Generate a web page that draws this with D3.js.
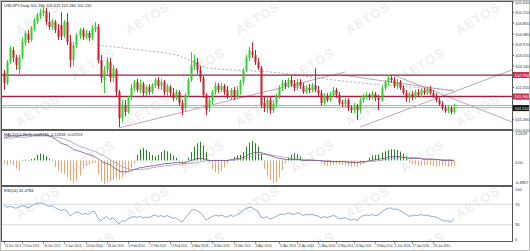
<!DOCTYPE html>
<html>
<head>
<meta charset="utf-8">
<script src="https://cdn.jsdelivr.net/npm/d3@7"></script>
<style>
  html, body { margin: 0; padding: 0; background: #fff; }
  svg { display: block; font-family: "Liberation Sans", Arial, sans-serif; }
</style>
</head>
<body>
<svg id="chart"></svg>
<script>
// USDJPY daily bars
const opens = [102.87,102.48,103.29,103.76,103.45,102.99,103.49,104.03,104.38,104.15,104.57,104.88,105.08,105.19,105.27,104.85,104.65,104.85,104.54,104.73,
  104.30,104.85,104.07,103.37,103.95,104.30,104.54,104.26,104.42,104.23,104.57,104.65,103.37,102.60,102.99,103.29,102.68,102.99,102.13,101.12,
  101.63,101.36,101.90,102.29,102.52,102.21,102.44,102.09,102.33,102.13,102.37,102.60,102.37,102.52,102.13,102.33,102.09,101.90,102.13,101.71,
  101.51,102.02,102.60,103.14,103.29,102.99,102.68,102.02,101.51,101.82,102.13,102.37,102.21,102.37,102.21,101.98,102.21,101.94,102.21,102.52,
  102.99,103.45,103.68,103.57,103.29,103.06,101.71,101.51,101.82,101.43,101.67,101.98,102.29,102.48,102.37,102.60,102.44,102.29,102.52,102.37,
  102.13,102.29,102.21,102.40,102.21,102.09,101.71,101.98,101.82,102.02,102.21,102.02,101.71,101.67,101.82,101.51,101.43,101.59,101.43,101.82,
  101.98,102.02,101.94,102.06,101.90,101.82,102.29,102.52,102.68,102.60,102.37,102.52,102.29,102.09,101.90,102.06,101.94,102.13,102.02,102.21,
  102.09,102.25,102.09,101.98,101.82,101.67,101.51,101.40,101.51,101.36];
const highs = [102.99,103.37,103.92,103.88,103.57,103.57,104.23,104.50,104.54,104.69,105.00,105.19,105.35,105.43,105.39,105.23,104.96,104.92,104.77,105.23,
  104.92,105.19,104.34,104.07,104.42,104.61,104.61,104.54,104.50,104.73,104.85,104.77,103.57,103.14,103.49,103.45,103.18,103.06,102.21,101.82,
  101.82,101.98,102.44,102.60,102.64,102.60,102.52,102.40,102.44,102.48,102.68,102.71,102.64,102.60,102.44,102.40,102.29,102.21,102.21,101.82,
  102.09,102.68,103.68,103.57,103.45,103.14,102.75,102.09,101.94,102.21,102.52,102.48,102.48,102.44,102.37,102.29,102.33,102.37,102.60,103.06,
  103.57,103.88,104.07,103.76,103.45,103.14,101.94,101.94,101.98,101.82,102.06,102.40,102.60,102.60,102.68,102.75,102.60,102.64,102.64,102.48,
  102.40,102.44,102.48,103.06,102.37,102.21,102.09,102.09,102.13,102.33,102.29,102.13,101.82,101.90,101.90,101.63,101.71,101.67,101.90,102.06,
  102.13,102.09,102.17,102.13,102.02,102.37,102.60,102.75,102.79,102.71,102.64,102.60,102.40,102.21,102.13,102.17,102.21,102.25,102.29,102.29,
  102.33,102.37,102.21,102.09,101.90,101.78,101.63,101.59,101.59,101.67];
const lows = [102.21,102.40,103.22,103.29,102.99,102.83,103.41,103.92,104.03,104.07,104.50,104.77,104.96,105.08,104.73,104.54,104.54,104.42,104.15,104.15,
  104.23,103.95,103.10,103.14,103.84,104.19,104.15,104.19,104.11,104.15,104.46,103.26,102.48,102.09,102.79,102.52,102.52,101.98,100.78,100.97,
  101.20,101.28,101.82,102.17,102.13,102.09,101.98,101.98,102.02,102.06,102.29,102.25,102.21,102.02,101.98,101.94,101.78,101.82,101.59,101.24,
  101.40,101.94,102.52,102.99,102.83,102.52,101.90,101.24,101.36,101.67,102.02,102.09,102.13,102.02,101.86,101.82,101.82,101.86,102.02,102.40,
  102.91,103.33,103.45,103.18,102.99,101.51,101.36,101.32,101.28,101.32,101.55,101.86,102.17,102.25,102.29,102.33,102.17,102.21,102.25,102.06,
  102.06,102.09,102.13,102.13,101.98,101.59,101.63,101.75,101.75,101.94,101.90,101.63,101.55,101.55,101.40,101.32,101.32,101.05,101.32,101.71,
  101.86,101.82,101.86,101.78,101.43,101.75,102.17,102.40,102.48,102.29,102.25,102.21,102.02,101.75,101.71,101.82,101.86,101.94,101.94,102.02,
  102.02,102.02,101.90,101.75,101.59,101.43,101.32,101.32,101.28,101.28];
const closes = [102.48,103.29,103.84,103.45,103.18,103.49,104.07,104.42,104.15,104.61,104.92,105.12,105.23,105.31,104.85,104.65,104.88,104.54,104.26,104.30,
  104.85,104.07,103.37,103.95,104.34,104.54,104.26,104.42,104.23,104.61,104.69,103.37,102.68,102.99,103.37,102.68,103.06,102.13,101.12,101.63,
  101.36,101.90,102.29,102.52,102.21,102.44,102.09,102.33,102.13,102.40,102.60,102.37,102.52,102.13,102.37,102.09,101.90,102.13,101.71,101.43,
  102.02,102.60,103.18,103.37,102.99,102.68,102.02,101.43,101.82,102.13,102.40,102.21,102.37,102.13,101.98,102.21,101.94,102.21,102.52,102.99,
  103.45,103.76,103.57,103.29,103.06,101.63,101.51,101.82,101.43,101.67,101.98,102.29,102.48,102.37,102.60,102.44,102.29,102.52,102.37,102.13,
  102.29,102.21,102.40,102.21,102.09,101.71,101.98,101.82,102.02,102.21,102.02,101.71,101.67,101.82,101.51,101.43,101.59,101.43,101.82,101.98,
  102.02,101.94,102.06,101.90,101.82,102.29,102.52,102.68,102.60,102.37,102.52,102.29,102.09,101.90,102.06,101.94,102.13,102.02,102.21,102.09,
  102.25,102.09,101.98,101.82,101.67,101.51,101.40,101.51,101.36,101.51];

// MACD(12,26,9): histogram and the two lines
const macdHist = [-0.12,-0.18,-0.12,-0.18,-0.30,-0.37,0.02,0.03,0.02,0.05,0.08,0.20,0.25,0.22,0.15,0.06,0.02,-0.25,-0.37,-0.43,
  -0.49,-0.61,-0.74,-0.83,-0.74,-0.55,-0.30,-0.20,-0.15,-0.10,-0.08,-0.50,-0.75,-0.85,-0.80,-0.75,-0.70,-0.68,-0.70,-0.60,
  -0.50,-0.40,-0.25,-0.12,0.20,0.40,0.45,0.38,0.30,0.20,0.15,0.20,0.30,0.37,0.33,0.25,0.18,0.10,-0.10,-0.18,
  -0.15,0.10,0.30,0.50,0.62,0.68,0.55,0.30,-0.10,-0.30,-0.42,-0.49,-0.40,-0.25,-0.12,0.02,0.12,0.18,0.20,0.30,
  0.50,0.65,0.70,0.62,0.50,0.25,-0.30,-0.55,-0.70,-0.80,-0.78,-0.60,-0.35,-0.10,0.10,0.20,0.25,0.22,0.15,0.03,
  0.02,0.03,0.02,0.01,-0.02,-0.12,-0.18,-0.20,-0.18,-0.15,-0.12,-0.15,-0.15,-0.18,-0.20,-0.22,-0.20,-0.22,-0.18,-0.12,
  -0.05,0.10,0.18,0.20,0.22,0.28,0.33,0.37,0.40,0.40,0.38,0.32,0.25,0.15,-0.08,-0.12,-0.15,-0.18,-0.20,-0.18,
  -0.15,-0.18,-0.20,-0.22,-0.20,-0.18,-0.20,-0.22,-0.20,-0.18];
const macdMain = [0.84,0.84,0.88,0.88,0.88,0.88,0.92,0.92,0.92,0.92,0.92,0.92,0.92,0.92,0.92,0.88,0.84,0.77,0.69,0.62,
  0.58,0.55,0.47,0.40,0.36,0.33,0.29,0.25,0.22,0.18,0.14,0.07,0.00,-0.08,-0.11,-0.15,-0.22,-0.30,-0.37,-0.41,
  -0.41,-0.41,-0.37,-0.33,-0.30,-0.26,-0.26,-0.22,-0.22,-0.19,-0.19,-0.15,-0.15,-0.11,-0.11,-0.11,-0.08,-0.08,-0.08,-0.08,
  -0.08,-0.04,0.00,0.03,0.07,0.07,0.07,0.03,0.00,0.00,0.00,0.00,0.00,0.00,0.00,0.03,0.03,0.07,0.07,0.11,
  0.14,0.22,0.25,0.29,0.29,0.29,0.25,0.22,0.18,0.14,0.11,0.07,0.07,0.03,0.03,0.03,0.03,0.03,0.03,0.00,
  0.00,0.00,0.00,0.00,0.00,0.00,-0.04,-0.04,-0.04,-0.04,-0.04,-0.04,-0.04,-0.04,-0.08,-0.08,-0.08,-0.08,-0.04,-0.04,
  -0.04,0.00,0.00,0.03,0.03,0.07,0.07,0.11,0.14,0.14,0.14,0.14,0.11,0.11,0.07,0.07,0.07,0.07,0.07,0.03,
  0.03,0.03,0.03,0.03,0.03,0.00,0.00,0.00,0.00,0.00];
const macdSignal = [0.81,0.81,0.81,0.81,0.84,0.84,0.84,0.84,0.84,0.88,0.88,0.88,0.88,0.88,0.88,0.88,0.88,0.84,0.84,0.81,
  0.77,0.73,0.69,0.62,0.58,0.51,0.47,0.44,0.40,0.36,0.33,0.29,0.22,0.18,0.11,0.03,-0.04,-0.08,-0.15,-0.22,
  -0.26,-0.30,-0.33,-0.33,-0.33,-0.33,-0.33,-0.30,-0.30,-0.26,-0.26,-0.22,-0.22,-0.19,-0.19,-0.19,-0.15,-0.15,-0.15,-0.11,
  -0.11,-0.11,-0.11,-0.08,-0.08,-0.04,-0.04,0.00,0.00,0.00,0.00,0.00,0.00,0.00,0.00,0.00,0.00,0.03,0.03,0.03,
  0.07,0.11,0.14,0.18,0.22,0.22,0.22,0.22,0.22,0.18,0.18,0.14,0.14,0.11,0.11,0.07,0.07,0.07,0.03,0.03,
  0.03,0.03,0.03,0.00,0.00,0.00,0.00,0.00,0.00,-0.04,-0.04,-0.04,-0.04,-0.04,-0.04,-0.04,-0.04,-0.08,-0.08,-0.08,
  -0.04,-0.04,-0.04,-0.04,0.00,0.00,0.03,0.03,0.07,0.07,0.07,0.11,0.11,0.11,0.11,0.11,0.11,0.11,0.07,0.07,
  0.07,0.07,0.07,0.03,0.03,0.03,0.03,0.03,0.03,0.00];

// RSI(14)
const rsi = [68,64,66,64,62,65,67,66,63,67,70,72,73,72,68,66,67,63,60,58,
  60,56,47,52,55,54,50,52,50,55,56,44,37,42,46,40,44,38,31,38,
  36,41,44,46,44,47,43,45,44,47,49,46,48,45,48,45,42,44,38,35,
  43,50,58,60,57,54,47,39,43,46,49,47,49,46,45,49,46,49,53,57,
  61,64,64,60,57,45,43,46,41,43,46,49,51,50,53,52,50,53,52,48,
  50,49,51,48,47,43,46,44,46,48,46,42,42,44,40,39,41,38,45,48,
  49,48,50,48,49,55,59,62,63,60,61,58,55,51,47,47,49,48,50,48,
  49,47,46,45,42,39,37,38,35,42.48];

const dateLabels = ["10 Dec 2013","19 Dec 2013","30 Dec 2013","9 Jan 2014","20 Jan 2014","28 Jan 2014","6 Feb 2014",
  "17 Feb 2014","25 Feb 2014","6 Mar 2014","14 Mar 2014","25 Mar 2014","3 Apr 2014","11 Apr 2014","22 Apr 2014",
  "1 May 2014","12 May 2014","20 May 2014","29 May 2014","9 Jun 2014","17 Jun 2014","26 Jun 2014"];
const dateIdx = [0,6,13,20,27,34,41,48,55,62,69,76,83,91,97,104,110,116,123,129,135,142];

const priceTicks = [105.620,105.210,104.800,104.380,103.970,103.550,103.140,102.720,102.310,101.890,101.480,101.060,100.650];
const redLevels = [102.79, 101.96];
const cyanLevels = [101.61, 101.53];
const lastPrice = 101.51;
// drawn trendlines: [index1, price1, index2, price2]
const trendLines = [[38,100.74,113,102.91],[112,102.79,149,102.17],[118,100.78,168.2,102.99],[129,102.79,168.2,100.97]];
const maIdx = [31,45,58,68,88,115,149];
const maVal = [103.95,103.76,103.53,103.06,102.91,102.52,102.21];

const W = 530, H = 251;
const plotL = 2, plotR = 512;
const main = {top: 2, bottom: 129}, mp = {top: 131, bottom: 185}, rp = {top: 187, bottom: 241};

const svg = d3.select("#chart").attr("width", W).attr("height", H);

const x = d3.scaleLinear().domain([0, closes.length - 1]).range([4, 454]);
const y = d3.scaleLinear().domain([100.65, 105.62]).range([130.3, 2]);
const ym = d3.scaleLinear().domain([-0.8857, 1.0629]).range([185, 131]);
const yr = d3.scaleLinear().domain([0, 100]).range([240, 189]);
const px = i => Math.round(x(i)) + 0.5;

const defs = svg.append("defs");
[["clipMain", main], ["clipMacd", mp], ["clipRsi", rp], ["clipAll", {top: 1, bottom: 250}]].forEach(([id, p]) => {
  defs.append("clipPath").attr("id", id).append("rect")
    .attr("x", id === "clipAll" ? 1 : plotL).attr("y", p.top)
    .attr("width", id === "clipAll" ? W - 2 : plotR - plotL).attr("height", p.bottom - p.top);
});

// watermark
const wm = svg.append("g").attr("clip-path", "url(#clipAll)");
for (let r = 0; r < 6; r++) {
  for (let c = 0; c < 6; c++) {
    const cx = 40 + c * 110 + (r % 2) * 55, cy = 22 + r * 46;
    if (cx > 500) continue;
    wm.append("text").attr("transform", `translate(${cx},${cy}) rotate(-32)`)
      .attr("text-anchor", "middle").attr("font-size", 13).attr("font-weight", "bold")
      .attr("fill", "#efefef").attr("letter-spacing", 1).text("AETOS");
  }
}

// ---- main panel
const gm = svg.append("g").attr("clip-path", "url(#clipMain)");

gm.append("path")
  .datum(maIdx.map((d, i) => [d, maVal[i]]))
  .attr("fill", "none").attr("stroke", "#8a8a8a").attr("stroke-width", 0.7).attr("stroke-dasharray", "2,2")
  .attr("d", d3.line().x(d => x(d[0])).y(d => y(d[1])).curve(d3.curveMonotoneX));

gm.selectAll(".tl").data(trendLines).enter().append("line")
  .attr("x1", d => x(d[0])).attr("y1", d => y(d[1])).attr("x2", d => x(d[2])).attr("y2", d => y(d[3]))
  .attr("stroke", "#b08fa0").attr("stroke-width", 0.8);

gm.selectAll(".rl").data(redLevels).enter().append("line")
  .attr("x1", plotL).attr("x2", plotR).attr("y1", d => y(d)).attr("y2", d => y(d))
  .attr("stroke", "#962443").attr("stroke-width", 1.3);

gm.selectAll(".cl").data(cyanLevels).enter().append("line")
  .attr("x1", plotL).attr("x2", plotR).attr("y1", d => y(d)).attr("y2", d => y(d))
  .attr("stroke", "#6fd0d8").attr("stroke-width", 1);

const idx = d3.range(closes.length);
const col = i => closes[i] >= opens[i] ? "#2fd12f" : "#d01c2c";

gm.selectAll(".wick").data(idx).enter().append("line")
  .attr("x1", px).attr("x2", px)
  .attr("y1", i => y(highs[i])).attr("y2", i => y(lows[i]))
  .attr("stroke", col).attr("stroke-width", 1);

gm.selectAll(".body").data(idx).enter().append("rect")
  .attr("x", i => Math.round(x(i)) - 0.5).attr("width", 2)
  .attr("y", i => y(Math.max(opens[i], closes[i])))
  .attr("height", i => Math.max(1, Math.abs(y(opens[i]) - y(closes[i]))))
  .attr("fill", col);

svg.append("text").attr("x", 4).attr("y", 7).attr("font-size", 4).attr("fill", "#222")
  .text("USDJPY,Daily  101.360 101.670 101.280 101.510");

// ---- MACD panel
const gd = svg.append("g").attr("clip-path", "url(#clipMacd)");
gd.selectAll(".hb").data(idx).enter().append("line")
  .attr("x1", px).attr("x2", px)
  .attr("y1", ym(0)).attr("y2", i => ym(macdHist[i]))
  .attr("stroke", i => macdHist[i] >= 0 ? "#1e8a1e" : "#f0a26c").attr("stroke-width", 1);

gd.append("path").datum(macdSignal)
  .attr("fill", "none").attr("stroke", "#a99ab8").attr("stroke-width", 0.8)
  .attr("d", d3.line().x((d, i) => x(i)).y(d => ym(d)));
gd.append("path").datum(macdMain)
  .attr("fill", "none").attr("stroke", "#6c4f86").attr("stroke-width", 0.8)
  .attr("d", d3.line().x((d, i) => x(i)).y(d => ym(d)));

svg.append("text").attr("x", 4).attr("y", 136).attr("font-size", 4).attr("fill", "#222")
  .text("MACD(12,26,9) -0.09735 -0.12658 -0.02923");

// ---- RSI panel
const gr = svg.append("g").attr("clip-path", "url(#clipRsi)");
gr.selectAll(".lv").data([70, 30]).enter().append("line")
  .attr("x1", plotL).attr("x2", plotR).attr("y1", d => yr(d)).attr("y2", d => yr(d))
  .attr("stroke", "#cfcfcf").attr("stroke-width", 0.8);
gr.append("path").datum(rsi)
  .attr("fill", "none").attr("stroke", "#7fa3c4").attr("stroke-width", 0.9)
  .attr("d", d3.line().x((d, i) => x(i)).y(d => yr(d)));
svg.append("text").attr("x", 4).attr("y", 192).attr("font-size", 4).attr("fill", "#222")
  .text("RSI(14) 42.4784");

// ---- frames
svg.append("rect").attr("x", 0.5).attr("y", 0.5).attr("width", W - 1).attr("height", H - 1)
  .attr("fill", "none").attr("stroke", "#bbb");
svg.append("rect").attr("x", plotL - 0.5).attr("y", 1.5).attr("width", plotR - plotL + 1).attr("height", rp.bottom - 1)
  .attr("fill", "none").attr("stroke", "#555").attr("stroke-width", 1);
[main.bottom + 1, mp.bottom + 1].forEach(v => {
  svg.append("line").attr("x1", plotL).attr("x2", plotR).attr("y1", v).attr("y2", v)
    .attr("stroke", "#222").attr("stroke-width", 1.4);
});

// ---- right axis
const ax = svg.append("g").attr("font-size", 4).attr("fill", "#333");
ax.selectAll(".pt").data(priceTicks).enter().append("text")
  .attr("x", 515).attr("y", d => y(d) + 1.5).text(d => d.toFixed(3));
ax.selectAll(".ptk").data(priceTicks).enter().append("line")
  .attr("x1", plotR).attr("x2", plotR + 2).attr("y1", d => y(d)).attr("y2", d => y(d)).attr("stroke", "#555");

const tags = redLevels.map(v => ({v, bg: "#c8304e"})).concat([{v: lastPrice, bg: "#111"}]);
tags.forEach(t => {
  ax.append("rect").attr("x", plotR + 1).attr("y", y(t.v) - 3).attr("width", 16).attr("height", 6).attr("fill", t.bg);
  ax.append("text").attr("x", 514.5).attr("y", y(t.v) + 1.5).attr("fill", "#fff").text(t.v.toFixed(3));
});

const macdTicks = [[1.0629, "1.0629"], [0, "0.00"], [-0.8857, "-0.8857"]];
ax.selectAll(".mt").data(macdTicks).enter().append("text")
  .attr("x", 515).attr("y", d => Math.min(ym(d[0]) + 3.5, 184)).text(d => d[1]);
const rsiTicks = [100, 70, 30, 0];
ax.selectAll(".rt").data(rsiTicks).enter().append("text")
  .attr("x", 515).attr("y", d => Math.min(yr(d) + 1.5, 241)).text(d => d);

// ---- date axis
const dx = svg.append("g").attr("font-size", 3.4).attr("fill", "#333");
dx.selectAll(".dt").data(dateIdx).enter().append("line")
  .attr("x1", i => px(i)).attr("x2", i => px(i)).attr("y1", rp.bottom).attr("y2", rp.bottom + 3)
  .attr("stroke", "#555").attr("stroke-width", 0.6);
dx.selectAll(".dl").data(dateIdx).enter().append("text")
  .attr("x", i => x(i) + 1).attr("y", 247)
  .attr("textLength", 16).attr("lengthAdjust", "spacingAndGlyphs")
  .text((d, k) => dateLabels[k]);
</script>
</body>
</html>
